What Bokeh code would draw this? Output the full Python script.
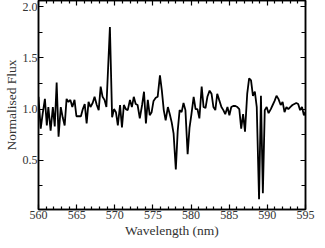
from bokeh.plotting import figure
from bokeh.models import Range1d, LinearAxis, FixedTicker, PrintfTickFormatter
from bokeh.embed import file_html
from bokeh.resources import INLINE

wavelength = [560.00, 560.29, 560.54, 560.84, 561.09, 561.29, 561.59, 561.88, 562.13, 562.38,
              562.63, 562.92, 563.17, 563.43, 563.68, 563.93, 564.18, 564.43, 564.72, 564.97,
              565.26, 565.56, 565.81, 566.06, 566.31, 566.56, 566.81, 567.10, 567.35, 567.64,
              567.89, 568.15, 568.40, 568.65, 568.90, 569.36, 569.65, 569.90, 570.15, 570.40,
              570.69, 570.94, 571.19, 571.45, 571.70, 571.99, 572.24, 572.49, 572.74, 572.99,
              573.28, 573.58, 573.83, 574.08, 574.33, 574.58, 574.83, 575.08, 575.37, 575.62,
              575.92, 576.17, 576.42, 576.67, 576.96, 577.21, 577.46, 577.71, 578.00, 578.25,
              578.50, 578.76, 579.01, 579.26, 579.55, 579.80, 580.05, 580.34, 580.59, 580.84,
              581.09, 581.39, 581.64, 581.89, 582.14, 582.43, 582.68, 582.93, 583.18, 583.43,
              583.68, 583.98, 584.23, 584.48, 584.77, 585.02, 585.27, 585.52, 585.81, 586.07,
              586.32, 586.57, 586.82, 587.07, 587.36, 587.61, 587.86, 588.11, 588.36, 588.61,
              588.91, 589.16, 589.41, 589.66, 589.91, 590.16, 590.45, 590.70, 590.95, 591.20,
              591.45, 591.75, 592.00, 592.25, 592.50, 592.75, 593.00, 593.29, 593.54, 593.79,
              594.04, 594.29, 594.54, 594.79, 595.00]
flux = [1.12, 0.81, 0.95, 1.10, 0.84, 1.02, 0.79, 1.02, 0.83, 1.26,
        0.73, 1.02, 0.92, 0.84, 1.10, 1.07, 1.09, 1.02, 1.09, 0.93,
        0.93, 0.93, 1.00, 1.05, 0.86, 1.07, 1.02, 1.06, 1.12, 1.04,
        0.99, 1.22, 1.12, 1.09, 1.02, 1.80, 0.92, 1.00, 0.97, 0.84,
        1.04, 0.82, 1.04, 1.00, 0.99, 1.09, 1.02, 1.12, 1.05, 1.04,
        0.91, 1.04, 1.17, 0.86, 1.09, 0.94, 0.97, 1.08, 1.11, 1.12,
        1.33, 1.18, 0.99, 0.89, 1.02, 0.95, 0.87, 0.76, 0.41, 0.79,
        0.99, 0.97, 1.06, 0.99, 0.56, 0.82, 0.95, 1.12, 1.00, 1.00,
        0.91, 1.22, 1.02, 1.01, 1.12, 1.18, 1.15, 1.02, 0.99, 1.15,
        1.09, 1.02, 0.99, 0.95, 1.02, 0.94, 1.02, 1.03, 1.03, 1.02,
        1.00, 0.81, 0.95, 0.78, 1.15, 1.30, 1.28, 1.13, 1.17, 1.02,
        0.12, 1.13, 0.18, 0.99, 1.02, 0.96, 1.00, 1.04, 1.08, 1.13,
        1.10, 1.04, 1.07, 0.97, 1.02, 1.00, 1.02, 1.04, 1.05, 1.06,
        1.05, 0.99, 1.02, 0.94, 0.97]

x_ticks = [560, 565, 570, 575, 580, 585, 590, 595]
x_minor = [v for v in range(560, 596) if v not in x_ticks]
y_ticks = [0.5, 1.0, 1.5, 2.0]
y_minor = [0.25, 0.75, 1.25, 1.75]

FONT = "Liberation Serif"
TXT = "#333333"

p = figure(width=317, height=240, output_backend="svg", toolbar_location=None,
           x_range=Range1d(560, 595), y_range=Range1d(0.02, 2.06),
           min_border_left=0, min_border_right=12, min_border_top=0, min_border_bottom=0)
p.line(wavelength, flux, line_color="black", line_width=1.8)

p.grid.visible = False
p.outline_line_color = "black"
p.outline_line_width = 1.5
p.background_fill_color = "white"
p.border_fill_color = "white"


def style(ax, major_len, minor_len, labels=True):
    ax.major_tick_in = major_len
    ax.major_tick_out = 0
    ax.minor_tick_in = minor_len
    ax.minor_tick_out = 0
    ax.major_tick_line_color = "black"
    ax.minor_tick_line_color = "black"
    ax.major_tick_line_width = 1.2
    ax.minor_tick_line_width = 1.2
    ax.axis_line_color = "black"
    ax.axis_line_width = 1.5
    if labels:
        ax.major_label_text_font = FONT
        ax.major_label_text_font_size = "12px"
        ax.major_label_text_color = TXT
        ax.major_label_standoff = 1
        ax.axis_label_text_font = FONT
        ax.axis_label_text_font_size = "13.5px"
        ax.axis_label_text_color = TXT
        ax.axis_label_text_font_style = "normal"
        ax.axis_label_standoff = 1
    else:
        ax.major_label_text_font_size = "1px"
        ax.major_label_standoff = 0


p.xaxis.ticker = FixedTicker(ticks=x_ticks, minor_ticks=x_minor)
p.yaxis.ticker = FixedTicker(ticks=y_ticks, minor_ticks=y_minor)
p.yaxis.formatter = PrintfTickFormatter(format="%.1f")
style(p.xaxis[0], 5, 3)
style(p.yaxis[0], 5, 4)
p.xaxis.axis_label = "Wavelength (nm)"
p.yaxis.axis_label = "Normalised Flux"

top = LinearAxis(ticker=FixedTicker(ticks=x_ticks, minor_ticks=x_minor),
                 major_label_overrides={t: "" for t in x_ticks})
right = LinearAxis(ticker=FixedTicker(ticks=y_ticks, minor_ticks=y_minor),
                   major_label_overrides={t: "" for t in y_ticks})
style(top, 5, 3, labels=False)
style(right, 5, 4, labels=False)
p.add_layout(top, "above")
p.add_layout(right, "right")

open("out.html", "w").write(file_html(p, INLINE))
